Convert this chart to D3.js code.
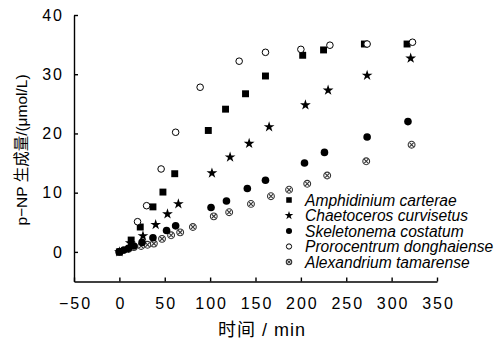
<!DOCTYPE html>
<html>
<head>
<meta charset="utf-8">
<script src="https://cdn.jsdelivr.net/npm/d3@7/dist/d3.min.js"></script>
<style>
  body { margin: 0; background: #fff; }
  svg { display: block; font-family: "Liberation Sans", Arial, sans-serif; }
</style>
</head>
<body>
<svg id="chart" width="497" height="345"></svg>
<script>
// values: [time (min), p-NP (umol/L)]
const amphidinium = [[0, 0], [13, 2.0], [23, 4.2], [37, 7.6], [48, 10.1], [61, 13.2], [98, 20.5], [117, 24.1], [139, 26.7], [161, 29.7], [202, 33.2], [225, 34.1], [270, 35.1], [317, 35.1]];
const chaetoceros = [[0, 0], [12, 1.5], [26, 2.7], [40, 4.6], [53, 6.4], [65, 8.1], [102, 13.3], [122, 16.0], [143, 18.3], [165, 21.1], [205, 24.8], [230, 27.3], [273, 29.8], [321, 32.7]];
const skeletonema = [[0, 0], [5, 0.3], [10, 0.6], [16, 1.0], [25, 1.6], [37, 2.4], [52, 3.6], [62, 4.4], [101, 7.5], [118, 8.6], [141, 10.7], [161, 12.1], [204, 15.0], [226, 16.8], [273, 19.4], [318, 22.0]];
const prorocentrum = [[20, 5.1], [30, 7.8], [46, 14.0], [62, 20.2], [89, 27.8], [132, 32.2], [161, 33.7], [200, 34.2], [232, 34.9], [273, 35.1], [323, 35.4]];
const alexandrium = [[0, 0], [10, 0.5], [16, 0.8], [24, 1.0], [31, 1.2], [38, 1.4], [47, 2.2], [57, 2.8], [67, 3.3], [81, 4.2], [104, 6.0], [121, 6.7], [145, 8.1], [167, 9.4], [187, 10.5], [207, 11.5], [229, 12.9], [272, 15.3], [322, 18.1]];

const seriesNames = ["Amphidinium carterae", "Chaetoceros curvisetus", "Skeletonema costatum", "Prorocentrum donghaiense", "Alexandrium tamarense"];
const seriesKinds = ["square", "star", "dot", "ring", "cross"];
const seriesData = [amphidinium, chaetoceros, skeletonema, prorocentrum, alexandrium];

const xTicks = [-50, 0, 50, 100, 150, 200, 250, 300, 350];
const yTicks = [0, 10, 20, 30, 40];

const svg = d3.select("#chart");
const x = d3.scaleLinear().domain([-50, 350]).range([74, 437]);
const y = d3.scaleLinear().domain([-5, 40]).range([281.5, 15]);

// axes, ticks pointing inward
const xAxis = svg.append("g")
    .attr("transform", `translate(0,${y(-5)})`)
    .call(d3.axisBottom(x).tickValues(xTicks).tickSizeInner(-4).tickSizeOuter(0).tickPadding(16));
const yAxis = svg.append("g")
    .attr("transform", `translate(${x(-50)},0)`)
    .call(d3.axisLeft(y).tickValues(yTicks).tickSizeInner(-4).tickSizeOuter(0).tickPadding(12));

[xAxis, yAxis].forEach(a => {
    a.select(".domain").attr("stroke", "#000").attr("stroke-width", 1.4);
    a.selectAll(".tick line").attr("stroke", "#000").attr("stroke-width", 1.4);
    a.selectAll(".tick text").attr("fill", "#000")
        .style("font-size", "16px").style("letter-spacing", "2px")
        .style("font-family", "\"Liberation Sans\", Arial, sans-serif");
});
xAxis.selectAll(".tick text").attr("dx", 1);
yAxis.selectAll(".tick text").attr("dx", 2);

// one marker, drawn at the origin of group g
const draw_marker = function (g, kind, scale) {
    if (kind === "square") {
        g.append("path").attr("d", d3.symbol(d3.symbolSquare, 48 * scale * scale)()).attr("fill", "#000");
    } else if (kind === "star") {
        g.append("path").attr("d", d3.symbol(d3.symbolStar, 36 * scale * scale)()).attr("fill", "#000");
    } else if (kind === "dot") {
        g.append("circle").attr("r", 3.8 * scale).attr("fill", "#000");
    } else if (kind === "ring") {
        g.append("circle").attr("r", 3.3 * scale).attr("fill", "#fff").attr("stroke", "#000").attr("stroke-width", 1);
    } else {
        let r = 3.4 * scale, k = r * 0.62;
        g.append("circle").attr("r", r).attr("fill", "#fff").attr("stroke", "#333").attr("stroke-width", 1.1);
        g.append("path").attr("d", `M${-k},${-k}L${k},${k}M${-k},${k}L${k},${-k}`)
            .attr("stroke", "#333").attr("stroke-width", 1.1);
    }
}

// draw order: later series on top
const drawOrder = [4, 2, 1, 0, 3];
drawOrder.forEach(i => {
    svg.append("g").selectAll("g")
        .data(seriesData[i])
        .join("g")
        .attr("transform", d => `translate(${x(d[0])},${y(d[1])})`)
        .each(function () { draw_marker(d3.select(this), seriesKinds[i], 1); });
});

// legend
const legend = svg.append("g");
seriesNames.forEach((name, i) => {
    let row = legend.append("g").attr("transform", `translate(289,${200 + i * 15.5})`);
    draw_marker(row, seriesKinds[i], 0.8);
    row.append("text").attr("x", 16).attr("y", 5.5)
        .style("font-size", "15.6px").style("font-style", "italic").text(name);
});

// axis titles
svg.append("text")
    .attr("transform", "translate(27,150) rotate(-90)")
    .attr("text-anchor", "middle")
    .style("font-size", "15.5px")
    .style("font-family", "\"Liberation Sans\", \"Noto Sans CJK SC\", sans-serif")
    .text("p−NP 生成量/(μmol/L)");
svg.append("text")
    .attr("x", 262).attr("y", 336)
    .attr("text-anchor", "middle")
    .style("font-size", "18px").style("letter-spacing", "1px")
    .style("font-family", "\"Liberation Sans\", \"Noto Sans CJK SC\", sans-serif")
    .text("时间 / min");
</script>
</body>
</html>
